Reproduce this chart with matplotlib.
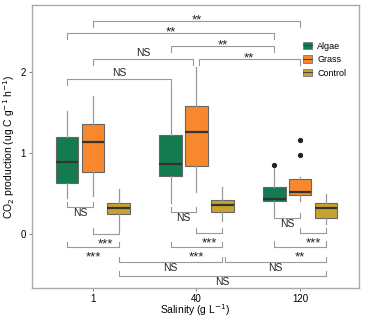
import matplotlib
matplotlib.use('Agg')
import matplotlib.pyplot as plt
from matplotlib.patches import Patch
from matplotlib.lines import Line2D

plt.rcParams['font.family'] = ['Liberation Sans', 'DejaVu Sans']

# groups and series
salinity = ['1', '40', '120']
treatments = ['Algae', 'Grass', 'Control']
colors = {'Algae': '#137b50', 'Grass': '#f8882d', 'Control': '#c8a32e'}

# box stats per treatment, one entry per salinity: (whislo, q1, med, q3, whishi)
algae_stats = [(0.44, 0.63, 0.89, 1.20, 1.52), (0.38, 0.72, 0.86, 1.22, 1.83), (0.27, 0.41, 0.43, 0.58, 0.85)]
grass_stats = [(0.47, 0.76, 1.13, 1.36, 1.70), (0.52, 0.84, 1.26, 1.58, 2.06), (0.41, 0.48, 0.52, 0.68, 0.70)]
control_stats = [(0.07, 0.25, 0.32, 0.38, 0.56), (0.16, 0.27, 0.36, 0.42, 0.58), (0.12, 0.19, 0.32, 0.38, 0.49)]
outliers = {('Algae', 2): [0.85], ('Grass', 2): [1.16, 0.98]}

# significance brackets: (from (treatment, group), to (treatment, group), level, label, opens down)
brackets = [
    (('Grass', 0), ('Grass', 2), 2.63, '**', True),
    (('Algae', 0), ('Algae', 2), 2.48, '**', True),
    (('Algae', 1), ('Algae', 2), 2.32, '**', True),
    (('Grass', 0), ('Grass', 1), 2.16, 'NS', True),
    (('Grass', 1), ('Grass', 2), 2.16, '**', True),
    (('Algae', 0), ('Algae', 1), 1.91, 'NS', True),
    (('Algae', 0), ('Grass', 0), 0.33, 'NS', False),
    (('Grass', 0), ('Control', 0), 0.00, '***', False),
    (('Algae', 0), ('Control', 0), -0.17, '***', False),
    (('Algae', 1), ('Grass', 1), 0.27, 'NS', False),
    (('Grass', 1), ('Control', 1), 0.01, '***', False),
    (('Algae', 1), ('Control', 1), -0.17, '***', False),
    (('Algae', 2), ('Grass', 2), 0.19, 'NS', False),
    (('Grass', 2), ('Control', 2), 0.01, '***', False),
    (('Algae', 2), ('Control', 2), -0.16, '**', False),
    (('Control', 0), ('Control', 1), -0.35, 'NS', False),
    (('Control', 1), ('Control', 2), -0.35, 'NS', False),
    (('Control', 0), ('Control', 2), -0.52, 'NS', False),
]

offset = {'Algae': -0.25, 'Grass': 0.0, 'Control': 0.25}
width = 0.22


def xpos(t, g):
    return g + 1 + offset[t]


fig = plt.figure(figsize=(3.66, 3.22), dpi=100)
ax = fig.add_axes([0.087, 0.106, 0.894, 0.878])

all_stats = {'Algae': algae_stats, 'Grass': grass_stats, 'Control': control_stats}
for t in treatments:
    bxp = []
    for g, (lo, q1, med, q3, hi) in enumerate(all_stats[t]):
        bxp.append({'whislo': lo, 'q1': q1, 'med': med, 'q3': q3, 'whishi': hi,
                    'fliers': outliers.get((t, g), [])})
    ax.bxp(bxp, positions=[xpos(t, g) for g in range(3)], widths=width,
           patch_artist=True, showcaps=False,
           boxprops=dict(facecolor=colors[t], edgecolor='#666666', linewidth=0.8),
           whiskerprops=dict(color='#999999', linewidth=0.9),
           medianprops=dict(color='#333333', linewidth=1.6),
           flierprops=dict(marker='o', markerfacecolor='#222222', markeredgecolor='#222222',
                           markersize=2.8))

tick_len = 0.065
gap = 0.012
for (t1, g1), (t2, g2), y, label, down in brackets:
    x1, x2 = xpos(t1, g1), xpos(t2, g2)
    if (t1, g1) == ('Grass', 0) and (t2, g2) == ('Grass', 1):
        x2 -= 0.03
    if (t1, g1) == ('Grass', 1) and (t2, g2) == ('Grass', 2):
        x1 += 0.02
    if (t1, g1) == ('Control', 1) and (t2, g2) == ('Control', 2):
        x1 += 0.03
    ty = y - tick_len if down else y + tick_len
    ax.plot([x1, x1, x2, x2], [ty, y, y, ty], color='#999999', linewidth=0.8)
    xm = (x1 + x2) / 2
    if label.startswith('*'):
        # asterisks sit high in the glyph box, so place by baseline
        ty_txt = y - 0.028 if down else y - 0.165
        ax.text(xm, ty_txt, label, ha='center', va='baseline', fontsize=9.5, color='#222222')
    elif down:
        ax.text(xm, y + gap, label, ha='center', va='bottom', fontsize=7.5, color='#222222')
    else:
        ax.text(xm, y - gap, label, ha='center', va='top', fontsize=7.5, color='#222222')

ax.set_xlim(0.41, 3.57)
ax.set_ylim(-0.67, 2.83)
ax.set_xticks([1, 2, 3])
ax.set_xticklabels(salinity)
ax.set_yticks([0, 1, 2])
ax.tick_params(labelsize=7, color='#666666', length=2.5, width=0.6, pad=2)
for s in ax.spines.values():
    s.set_color('#aaaaaa')
    s.set_linewidth(1.0)

ax.set_xlabel('Salinity (g L$^{-1}$)', fontsize=7.5)
ax.set_ylabel('CO$_2$ production (ug C g$^{-1}$ h$^{-1}$)', fontsize=7.5)
ax.xaxis.set_label_coords(0.5, -0.052)
ax.yaxis.set_label_coords(-0.045, 0.5)

# legend keys: filled box with a median line, like the boxplot glyphs
handles = [(Patch(facecolor=colors[t], edgecolor='#777777', linewidth=0.6),
            Line2D([], [], color='#444444', linewidth=0.8)) for t in treatments]
ax.legend(handles, treatments, loc='upper right', bbox_to_anchor=(0.985, 0.9), frameon=False,
          fontsize=6.5, handlelength=1.1, handleheight=0.9, handletextpad=0.5, labelspacing=0.5)

fig.savefig('out.png', dpi=100)
